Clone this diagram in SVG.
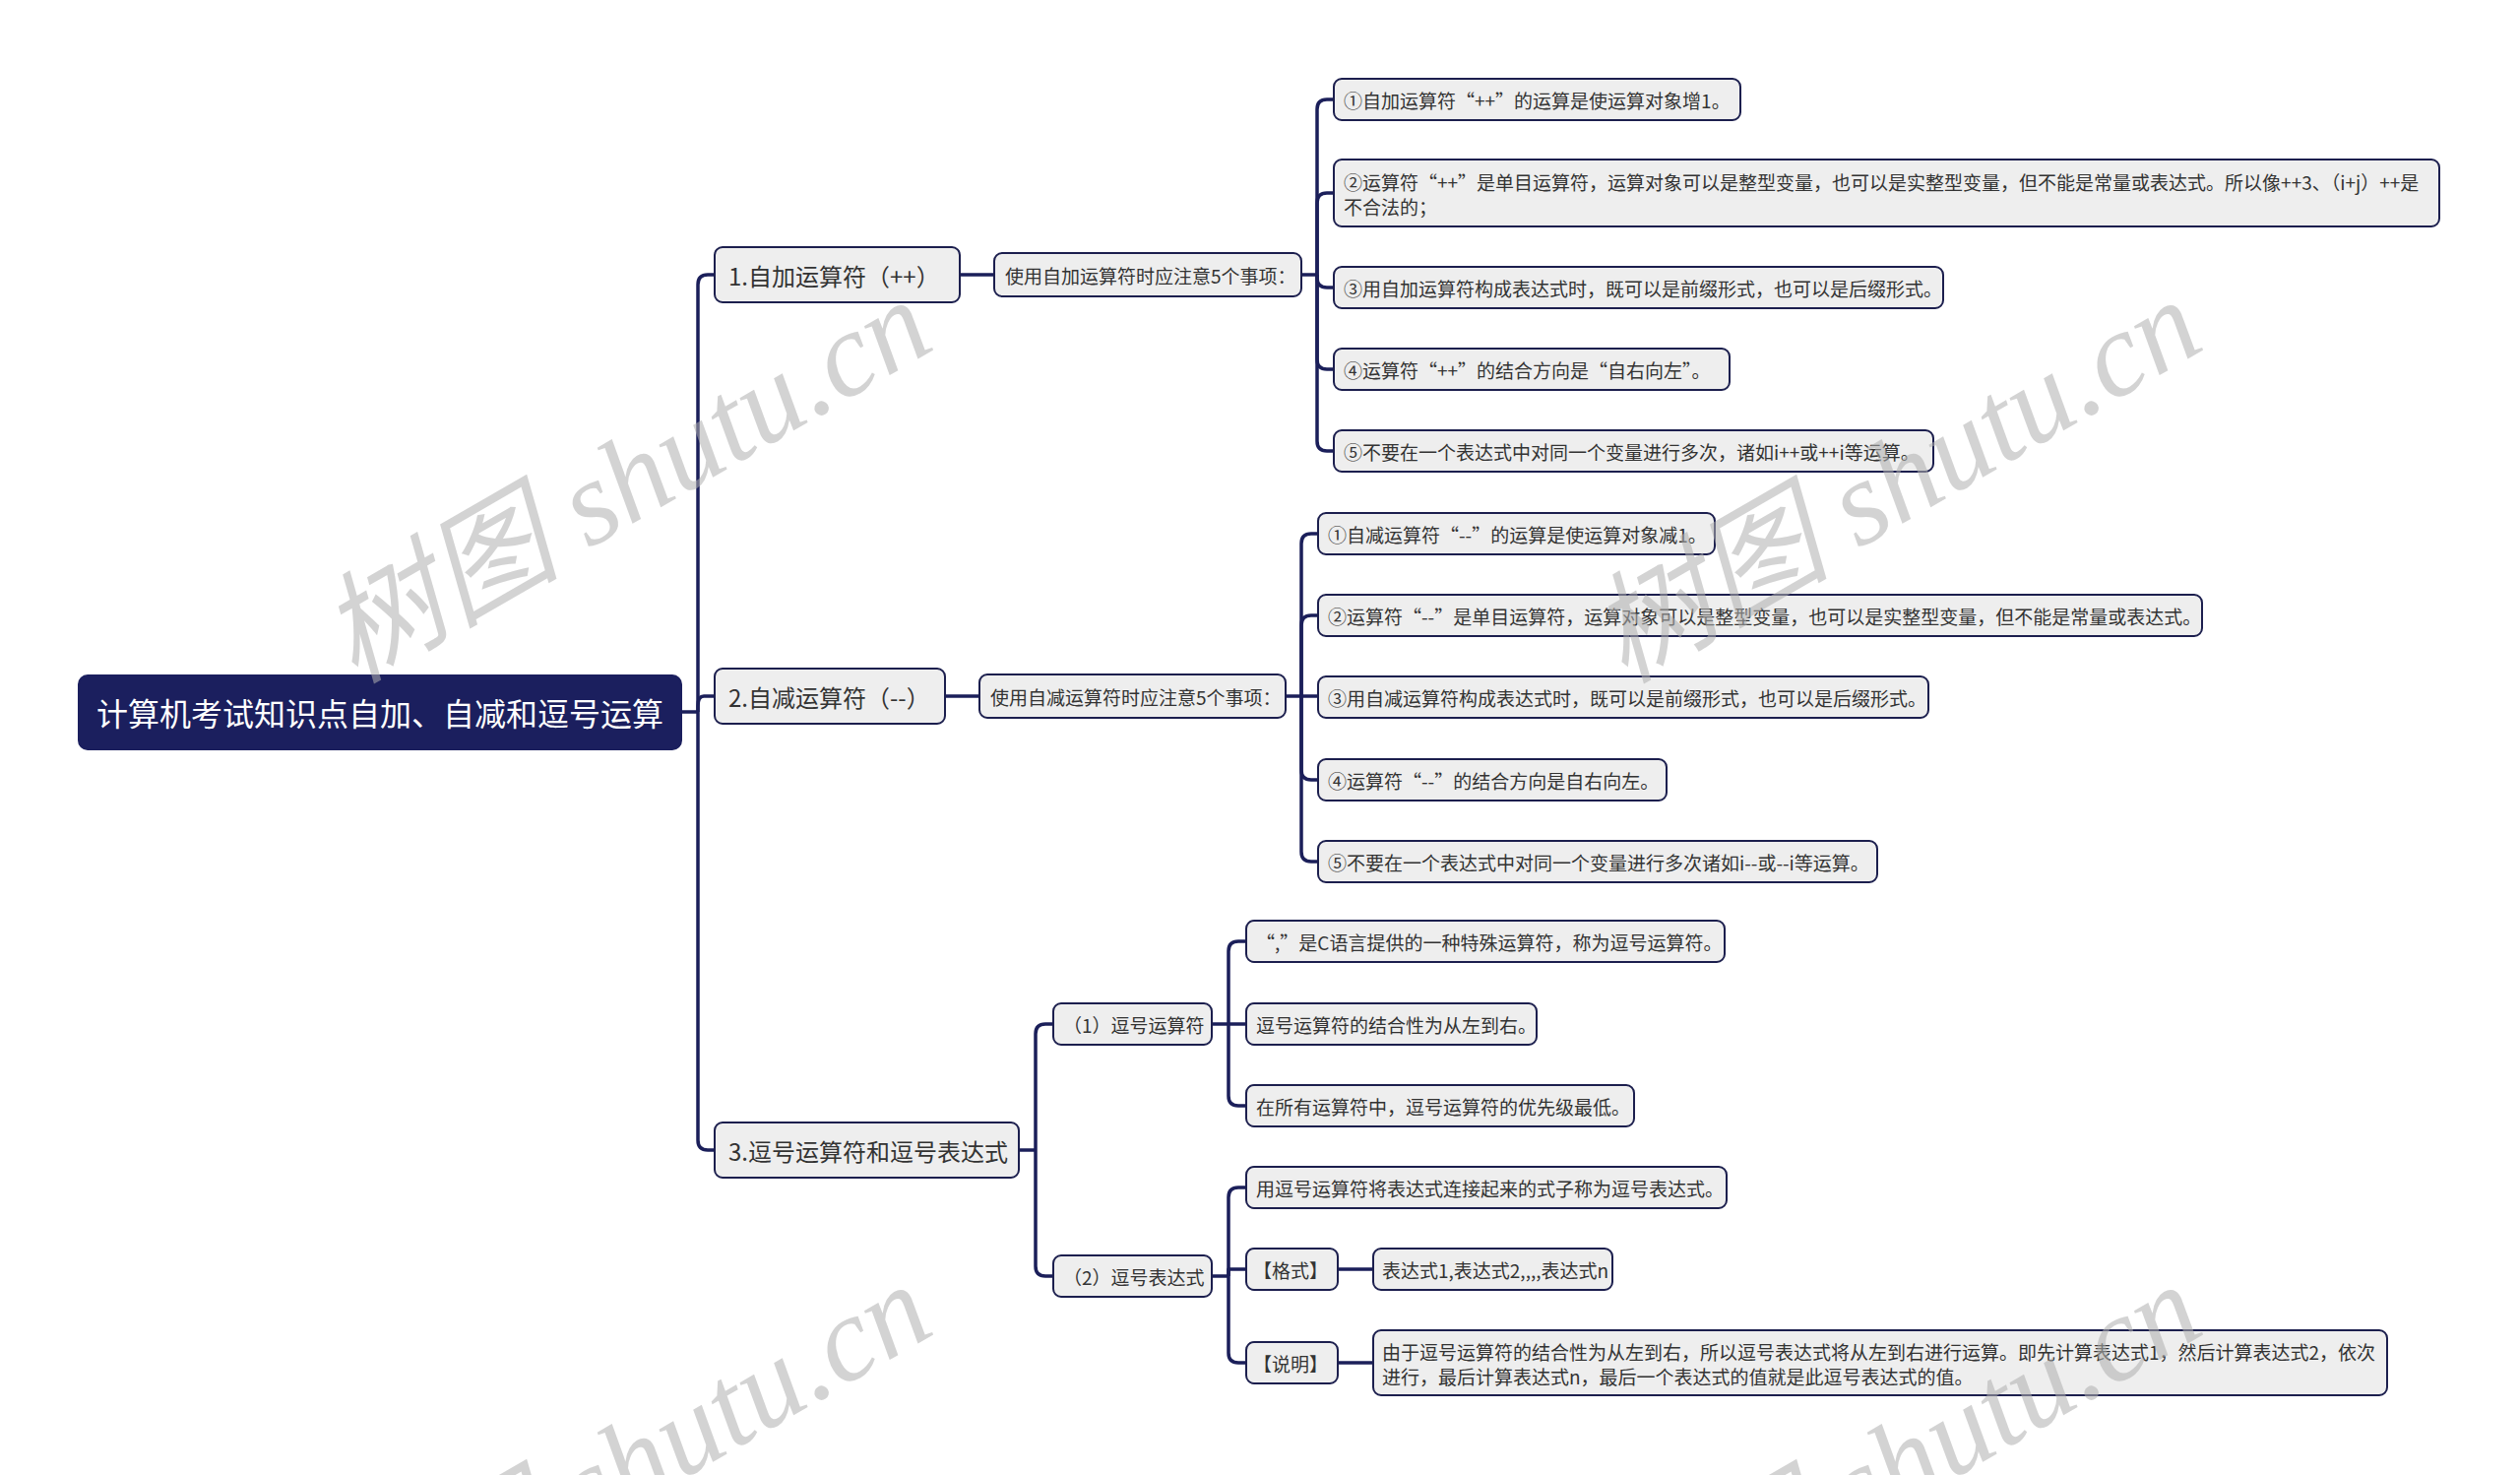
<svg xmlns="http://www.w3.org/2000/svg" width="2560" height="1498" viewBox="0 0 2560 1498">
<style>
.bg{fill:#ffffff}
.box{fill:#eeeeee;stroke:#1c1f4e;stroke-width:2}
.root{fill:#1b1f5e;stroke:#1b1f5e;stroke-width:2}
.t{font-family:"Noto Sans CJK SC","Noto Sans",sans-serif;fill:#333333;dominant-baseline:central}
.t18{font-size:19px}
.t24{font-size:24px}
.rt{font-family:"Noto Sans CJK SC","Noto Sans",sans-serif;font-size:32px;fill:#ffffff;dominant-baseline:central;text-anchor:middle}
.c{fill:none;stroke:#1b1f5a;stroke-width:3.5;stroke-linejoin:round}
.wm{font-family:"Liberation Serif","Noto Sans CJK SC",serif;font-style:italic;font-size:122px;fill:#b0b0b0;opacity:0.55}
</style>
<rect class="bg" x="0" y="0" width="2560" height="1498"/>

<g id="connectors">
  <path class="c" d="M692 723 H709"/>
  <path class="c" d="M709 723 V289 Q709 279 719 279 H726"/>
  <path class="c" d="M709 723 V717 Q709 707 715 707 H726"/>
  <path class="c" d="M709 723 V1158 Q709 1168 719 1168 H726"/>
  <path class="c" d="M975 279 H1010"/>
  <path class="c" d="M960 707 H995"/>
  <path class="c" d="M1035 1168 H1052"/>
  <path class="c" d="M1052 1168 V1050 Q1052 1040 1062 1040 H1070"/>
  <path class="c" d="M1052 1168 V1286 Q1052 1296 1062 1296 H1070"/>
  <path class="c" d="M1322 279 H1338"/>
  <path class="c" d="M1338 279 V111 Q1338 101 1348 101 H1355"/>
  <path class="c" d="M1338 279 V206 Q1338 196 1348 196 H1355"/>
  <path class="c" d="M1338 279 V282 Q1338 292 1348 292 H1355"/>
  <path class="c" d="M1338 279 V365 Q1338 375 1348 375 H1355"/>
  <path class="c" d="M1338 279 V448 Q1338 458 1348 458 H1355"/>
  <path class="c" d="M1306 707 H1322"/>
  <path class="c" d="M1322 707 V552 Q1322 542 1332 542 H1339"/>
  <path class="c" d="M1322 707 V635 Q1322 625 1332 625 H1339"/>
  <path class="c" d="M1322 707 H1339"/>
  <path class="c" d="M1322 707 V782 Q1322 792 1332 792 H1339"/>
  <path class="c" d="M1322 707 V865 Q1322 875 1332 875 H1339"/>
  <path class="c" d="M1231 1040 H1266"/>
  <path class="c" d="M1248 1040 V966 Q1248 956 1258 956 H1266"/>
  <path class="c" d="M1248 1040 V1113 Q1248 1123 1258 1123 H1266"/>
  <path class="c" d="M1231 1296 H1248"/>
  <path class="c" d="M1248 1296 V1216 Q1248 1206 1258 1206 H1266"/>
  <path class="c" d="M1248 1296 V1289 H1266"/>
  <path class="c" d="M1248 1296 V1374 Q1248 1384 1258 1384 H1266"/>
  <path class="c" d="M1359 1289 H1395"/>
  <path class="c" d="M1359 1384 H1395"/>
</g>

<g id="root">
  <rect class="root" x="80" y="686" width="612" height="75" rx="9"/>
  <text class="rt" x="386" y="723">计算机考试知识点自加、自减和逗号运算</text>
</g>

<g id="n1">
  <rect class="box" x="726" y="251" width="249" height="56" rx="8"/>
  <text class="t t24" x="740" y="279">1.自加运算符（++）</text>
</g>
<g id="n2">
  <rect class="box" x="726" y="679" width="234" height="56" rx="8"/>
  <text class="t t24" x="740" y="707">2.自减运算符（--）</text>
</g>
<g id="n3">
  <rect class="box" x="726" y="1140" width="309" height="56" rx="8"/>
  <text class="t t24" x="740" y="1168">3.逗号运算符和逗号表达式</text>
</g>

<g id="n1-1">
  <rect class="box" x="1010" y="257" width="312" height="44" rx="8"/>
  <text class="t t18" x="1021" y="279">使用自加运算符时应注意5个事项：</text>
</g>
<g id="n2-1">
  <rect class="box" x="995" y="685" width="311" height="44" rx="8"/>
  <text class="t t18" x="1006" y="707">使用自减运算符时应注意5个事项：</text>
</g>
<g id="n3-1">
  <rect class="box" x="1070" y="1019" width="161" height="42" rx="8"/>
  <text class="t t18" x="1080" y="1040">（1）逗号运算符</text>
</g>
<g id="n3-2">
  <rect class="box" x="1070" y="1275" width="161" height="42" rx="8"/>
  <text class="t t18" x="1080" y="1296">（2）逗号表达式</text>
</g>

<g id="a1">
  <rect class="box" x="1355" y="80" width="413" height="42" rx="8"/>
  <text class="t t18" x="1365" y="101">①自加运算符“++”的运算是使运算对象增1。</text>
</g>
<g id="a2">
  <rect class="box" x="1355" y="162" width="1123" height="68" rx="8"/>
  <text class="t t18" x="1365" y="184">②运算符“++”是单目运算符，运算对象可以是整型变量，也可以是实整型变量，但不能是常量或表达式。所以像++3、（i+j）++是</text>
  <text class="t t18" x="1365" y="209">不合法的；</text>
</g>
<g id="a3">
  <rect class="box" x="1355" y="271" width="619" height="42" rx="8"/>
  <text class="t t18" x="1365" y="292">③用自加运算符构成表达式时，既可以是前缀形式，也可以是后缀形式。</text>
</g>
<g id="a4">
  <rect class="box" x="1355" y="354" width="402" height="42" rx="8"/>
  <text class="t t18" x="1365" y="375">④运算符“++”的结合方向是“自右向左”。</text>
</g>
<g id="a5">
  <rect class="box" x="1355" y="437" width="609" height="42" rx="8"/>
  <text class="t t18" x="1365" y="458">⑤不要在一个表达式中对同一个变量进行多次，诸如i++或++i等运算。</text>
</g>

<g id="b1">
  <rect class="box" x="1339" y="521" width="403" height="42" rx="8"/>
  <text class="t t18" x="1349" y="542">①自减运算符“--”的运算是使运算对象减1。</text>
</g>
<g id="b2">
  <rect class="box" x="1339" y="604" width="898" height="42" rx="8"/>
  <text class="t t18" x="1349" y="625">②运算符“--”是单目运算符，运算对象可以是整型变量，也可以是实整型变量，但不能是常量或表达式。</text>
</g>
<g id="b3">
  <rect class="box" x="1339" y="687" width="620" height="42" rx="8"/>
  <text class="t t18" x="1349" y="708">③用自减运算符构成表达式时，既可以是前缀形式，也可以是后缀形式。</text>
</g>
<g id="b4">
  <rect class="box" x="1339" y="771" width="354" height="42" rx="8"/>
  <text class="t t18" x="1349" y="792">④运算符“--”的结合方向是自右向左。</text>
</g>
<g id="b5">
  <rect class="box" x="1339" y="854" width="568" height="42" rx="8"/>
  <text class="t t18" x="1349" y="875">⑤不要在一个表达式中对同一个变量进行多次诸如i--或--i等运算。</text>
</g>

<g id="c1">
  <rect class="box" x="1266" y="935" width="486" height="42" rx="8"/>
  <text class="t t18" x="1276" y="956">“,”是C语言提供的一种特殊运算符，称为逗号运算符。</text>
</g>
<g id="c2">
  <rect class="box" x="1266" y="1019" width="295" height="42" rx="8"/>
  <text class="t t18" x="1276" y="1040">逗号运算符的结合性为从左到右。</text>
</g>
<g id="c3">
  <rect class="box" x="1266" y="1102" width="394" height="42" rx="8"/>
  <text class="t t18" x="1276" y="1123">在所有运算符中，逗号运算符的优先级最低。</text>
</g>

<g id="d1">
  <rect class="box" x="1266" y="1185" width="488" height="42" rx="8"/>
  <text class="t t18" x="1276" y="1206">用逗号运算符将表达式连接起来的式子称为逗号表达式。</text>
</g>
<g id="d2">
  <rect class="box" x="1266" y="1268" width="93" height="42" rx="8"/>
  <text class="t t18" x="1273" y="1289">【格式】</text>
</g>
<g id="d2-1">
  <rect class="box" x="1395" y="1268" width="243" height="42" rx="8"/>
  <text class="t t18" x="1404" y="1289">表达式1,表达式2,,,,表达式n</text>
</g>
<g id="d3">
  <rect class="box" x="1266" y="1363" width="93" height="42" rx="8"/>
  <text class="t t18" x="1273" y="1384">【说明】</text>
</g>
<g id="d3-1">
  <rect class="box" x="1395" y="1351" width="1030" height="66" rx="8"/>
  <text class="t t18" x="1404" y="1372">由于逗号运算符的结合性为从左到右，所以逗号表达式将从左到右进行运算。即先计算表达式1，然后计算表达式2，依次</text>
  <text class="t t18" x="1404" y="1397">进行，最后计算表达式n，最后一个表达式的值就是此逗号表达式的值。</text>
</g>

<g id="watermark">
  <text class="wm" transform="translate(360,695) rotate(-30)">树图 shutu.cn</text>
  <text class="wm" transform="translate(1650,695) rotate(-30)">树图 shutu.cn</text>
  <text class="wm" transform="translate(360,1695) rotate(-30)">树图 shutu.cn</text>
  <text class="wm" transform="translate(1650,1695) rotate(-30)">树图 shutu.cn</text>
</g>
</svg>
